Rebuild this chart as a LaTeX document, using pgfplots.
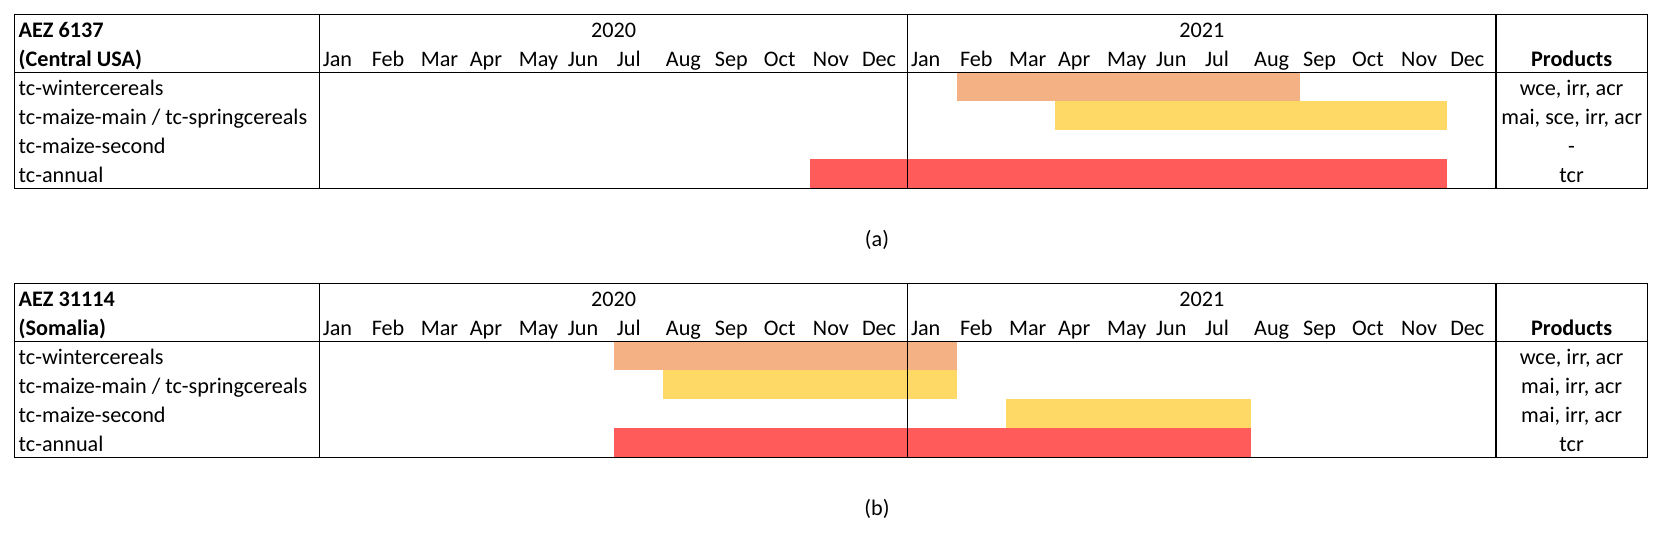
\documentclass[border=0pt]{standalone}
\usepackage{pgfplots}
\pgfplotsset{compat=1.18}
\usepackage{fontspec}
\setmainfont{Carlito}
\definecolor{cwin}{HTML}{F4B183}
\definecolor{cmai}{HTML}{FFD966}
\definecolor{cann}{HTML}{FF5B5B}
\newcommand\tf{\fontsize{11.1bp}{13.3bp}\selectfont}
\pgfplotsset{
  gantt/.style={
    scale only axis, width=816.3bp, height=87bp,
    xmin=-6.216, xmax=27.088, ymin=0, ymax=6,
    ticks=none, axis on top,
    axis line style={line width=0.6bp, black},
  },
}
\tikzset{
  ml/.style={anchor=base west, inner sep=0pt, font=\tf},
  tl/.style={anchor=base, inner sep=0pt, font=\tf},
}
\newcommand\monthrow[1]{%
  \node[ml] at (axis cs:#1+0.06,4.215) {Jan};
  \node[ml] at (axis cs:#1+1.06,4.215) {Feb};
  \node[ml] at (axis cs:#1+2.06,4.215) {Mar};
  \node[ml] at (axis cs:#1+3.06,4.215) {Apr};
  \node[ml] at (axis cs:#1+4.06,4.215) {May};
  \node[ml] at (axis cs:#1+5.06,4.215) {Jun};
  \node[ml] at (axis cs:#1+6.06,4.215) {Jul};
  \node[ml] at (axis cs:#1+7.06,4.215) {Aug};
  \node[ml] at (axis cs:#1+8.06,4.215) {Sep};
  \node[ml] at (axis cs:#1+9.06,4.215) {Oct};
  \node[ml] at (axis cs:#1+10.06,4.215) {Nov};
  \node[ml] at (axis cs:#1+11.06,4.215) {Dec};
}
\newcommand\gridlines{%
  \draw[line width=0.6bp] (axis cs:-6.216,4) -- (axis cs:27.088,4);
  \draw[line width=0.6bp] (axis cs:0,0) -- (axis cs:0,6);
  \draw[line width=0.6bp] (axis cs:12,0) -- (axis cs:12,6);
  \draw[line width=0.6bp] (axis cs:24,0) -- (axis cs:24,6);
  \node[tl] at (axis cs:6,5.215) {2020};
  \node[tl] at (axis cs:18,5.215) {2021};
  \node[tl] at (axis cs:25.544,4.215) {\bfseries Products};
  \node[ml] at (axis cs:-6.142,3.215) {tc-wintercereals};
  \node[ml] at (axis cs:-6.142,2.215) {tc-maize-main / tc-springcereals};
  \node[ml] at (axis cs:-6.142,1.215) {tc-maize-second};
  \node[ml] at (axis cs:-6.142,0.215) {tc-annual};
  \monthrow{0}
  \monthrow{12}
}
\begin{document}
\begin{tikzpicture}
\useasboundingbox (0,0) rectangle (831bp,267bp);
% Panel (a)
\begin{axis}[gantt, at={(7.35bp,172.85bp)}, anchor=south west]
  \addplot[fill=cwin, draw=none] coordinates {(13,3) (20,3) (20,4) (13,4)} --cycle;
  \addplot[fill=cmai, draw=none] coordinates {(15,2) (23,2) (23,3) (15,3)} --cycle;
  \addplot[fill=cann, draw=none] coordinates {(10,0) (23,0) (23,1) (10,1)} --cycle;
  \gridlines
  \node[ml] at (axis cs:-6.142,5.215) {\bfseries AEZ 6137};
  \node[ml] at (axis cs:-6.142,4.215) {\bfseries (Central USA)};
  \node[tl] at (axis cs:25.544,3.215) {wce, irr, acr};
  \node[tl] at (axis cs:25.544,2.215) {mai, sce, irr, acr};
  \node[tl] at (axis cs:25.544,1.215) {-};
  \node[tl] at (axis cs:25.544,0.215) {tcr};
\end{axis}
% Panel (b)
\begin{axis}[gantt, at={(7.35bp,38.35bp)}, anchor=south west]
  \addplot[fill=cwin, draw=none] coordinates {(6,3) (13,3) (13,4) (6,4)} --cycle;
  \addplot[fill=cmai, draw=none] coordinates {(7,2) (13,2) (13,3) (7,3)} --cycle;
  \addplot[fill=cmai, draw=none] coordinates {(14,1) (19,1) (19,2) (14,2)} --cycle;
  \addplot[fill=cann, draw=none] coordinates {(6,0) (19,0) (19,1) (6,1)} --cycle;
  \gridlines
  \node[ml] at (axis cs:-6.142,5.215) {\bfseries AEZ 31114};
  \node[ml] at (axis cs:-6.142,4.215) {\bfseries (Somalia)};
  \node[tl] at (axis cs:25.544,3.215) {wce, irr, acr};
  \node[tl] at (axis cs:25.544,2.215) {mai, irr, acr};
  \node[tl] at (axis cs:25.544,1.215) {mai, irr, acr};
  \node[tl] at (axis cs:25.544,0.215) {tcr};
\end{axis}
\node[anchor=base, inner sep=0pt, font=\tf] at (438.5bp,143.65bp) {(a)};
\node[anchor=base, inner sep=0pt, font=\tf] at (438.5bp,9.15bp) {(b)};
\end{tikzpicture}
\end{document}
